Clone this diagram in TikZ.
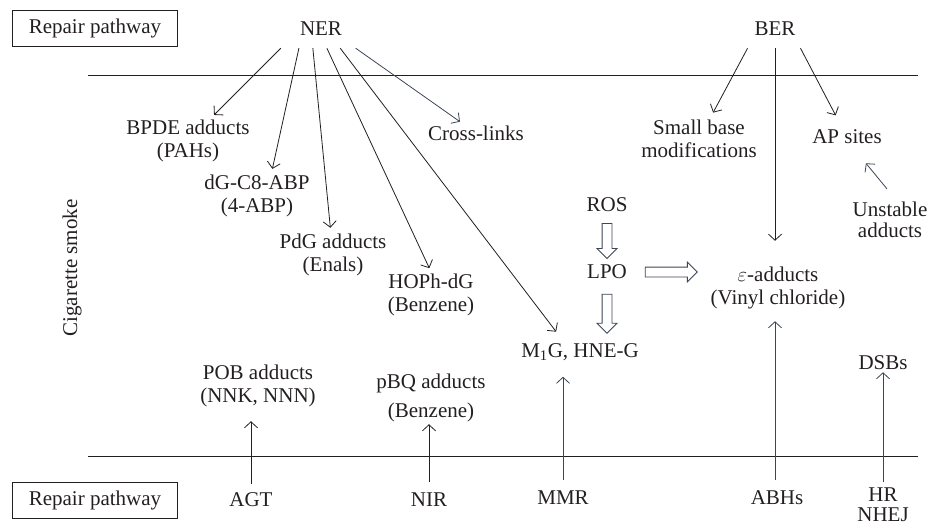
\documentclass[tikz,border=0pt]{standalone}
\usepackage{fontspec}
\setmainfont{Liberation Serif}
\usetikzlibrary{arrows.meta,shapes.arrows}
\definecolor{ink}{RGB}{35,31,32}
\definecolor{slate}{RGB}{60,70,86}

\begin{document}
\begin{tikzpicture}
          [x=1pt,y=-1pt,
          font=\fontsize{21}{23}\selectfont,
          every node/.style={text=ink,inner sep=2pt},
          label/.style={align=center},
          pathway/.style={draw=ink,line width=1pt,minimum width=165pt,minimum height=36pt},
          arc/.style={-{Straight Barb[length=6pt,width=13pt]},draw=ink,line width=0.8pt},
          arcs/.style={arc,draw=slate},
          edge/.style={draw=ink,line width=1pt},
          block/.style={single arrow,draw=slate,line width=0.9pt,fill=white,inner xsep=0pt,
            inner ysep=4.5pt,single arrow head extend=5pt,single arrow head indent=0pt,
            sloped,allow upside down}]

            \useasboundingbox (0,0) rectangle (928,525);

            \node (toppath) [pathway] at (95,28) {Repair pathway};
            \node (botpath) [pathway] at (95,500) {Repair pathway};
            \node (ner) [minimum width=80pt,minimum height=38pt] at (321,29) {NER};
            \node (ber) [minimum width=60pt,minimum height=38pt] at (775,29) {BER};
            \node (smoke) [rotate=90] at (72,268) {Cigarette smoke};

            \node (bpde) [label] at (188,141) {BPDE adducts\\(PAHs)};
            \node (dg) [label] at (257,196) {dG-C8-ABP\\(4-ABP)};
            \node (pdg) [label] at (333,255) {PdG adducts\\(Enals)};
            \node (hoph) [label] at (431,295) {HOPh-dG\\(Benzene)};
            \node (cross) at (476,133) {Cross-links};
            \node (small) [label] at (699,139) {Small base\\modifications};
            \node (ap) at (847,137) {AP sites};
            \node (unstable) [label,font=\fontsize{21}{21}\selectfont] at (890,220) {Unstable\\adducts};
            \node (ros) at (607,205) {ROS};
            \node (lpo) at (607,272) {LPO};
            \node (eps) [label] at (778,288) {$\varepsilon$-adducts\\(Vinyl chloride)};
            \node (m1g) at (580,352) {M\textsubscript{1}G, HNE-G};
            \node (pob) [label] at (258,386) {POB adducts\\(NNK, NNN)};
            \node (pbq) [label,font=\fontsize{21}{29}\selectfont] at (431,398) {pBQ adducts\\(Benzene)};
            \node (dsbs) at (883,363) {DSBs};

            \node (agt) at (251,500) {AGT};
            \node (nir) at (429,500) {NIR};
            \node (mmr) at (563,498) {MMR};
            \node (abhs) at (777,498) {ABHs};
            \node (hr) [label,font=\fontsize{21}{20}\selectfont] at (883,505) {HR\\NHEJ};

            \draw [edge] (88,75) -- (918,75);
            \draw [edge] (88,456) -- (918,456);

            \draw [arc,shorten >=4pt] (ner.south west) -- (bpde);
            \draw [arc,shorten >=4pt] (ner.221) -- (dg.58);
            \draw [arc,shorten >=4pt] (ner.247) -- (pdg);
            \draw [arc,shorten >=4pt] (ner.287) -- (hoph.north);
            \draw [arc,shorten >=12pt] (ner.315) -- (m1g.147);
            \draw [arcs,shorten >=3pt] (ner.331) -- (cross);

            \draw [arc,shorten >=6pt] (ber.215) -- (small);
            \draw [arc,shorten >=24pt] (ber.south) -- (ber.south |- eps.north);
            \draw [arc,shorten >=14pt] (ber.323) -- (ap);
            \draw [arcs] ([shift={(-3,-11)}]unstable.north) -- ([shift={(-18,17)}]ap.south east);

            \path (ros) -- node [block,minimum height=35pt] {} (lpo);
            \path (lpo) -- node [block,minimum height=52pt] {} (lpo -| eps.west);
            \path (lpo) -- node [block,minimum height=39pt] {} (lpo |- m1g.north);

            \draw [arc,shorten <=7pt,shorten >=12pt] (agt) -- (agt |- pob.south);
            \draw [arc,shorten <=9pt] (nir) -- (nir |- pbq.south);
            \draw [arcs,shorten <=9pt,shorten >=14pt] (mmr) -- (mmr |- m1g.south);
            \draw [arcs,shorten <=9pt,shorten >=10pt] (ber.south |- abhs.north) -- (ber.south |- eps.south);
            \draw [arcs,shorten <=4pt] (hr) -- (dsbs);

        \end{tikzpicture}
\end{document}
